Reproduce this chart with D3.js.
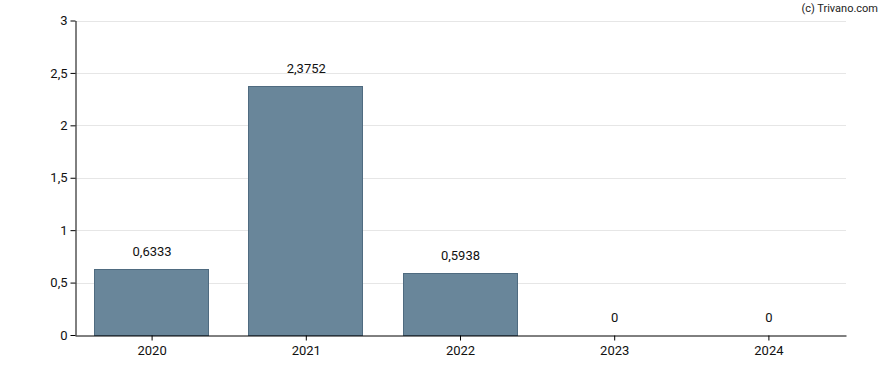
<!DOCTYPE html>
<html>
<head>
<meta charset="utf-8">
<script src="https://cdn.jsdelivr.net/npm/d3@7"></script>
<style>
  body { margin: 0; background: #fff; }
  text { font-family: Roboto, "Liberation Sans", sans-serif; }
</style>
</head>
<body>
<script>
// data
var years = ["2020", "2021", "2022", "2023", "2024"];
var values = [0.6333, 2.3752, 0.5938, 0, 0];
var yTicks = [0, 0.5, 1, 1.5, 2, 2.5, 3];

var width = 888;
var height = 370;
var margin = { top: 20, right: 42, bottom: 35, left: 75 };

var svg = d3.select("body")
    .append("svg")
    .attr("width", width)
    .attr("height", height);

var fmt = function(v) { return String(v).replace(".", ","); };

var x = d3.scaleBand()
    .domain(years)
    .range([margin.left, width - margin.right])
    .paddingInner(0.25)
    .paddingOuter(0.125);

var y = d3.scaleLinear()
    .domain([0, 3])
    .range([height - margin.bottom, margin.top + 0.5]);

// grid lines
svg.append("g")
    .selectAll("line")
    .data(yTicks.slice(1))
    .enter().append("line")
    .attr("x1", margin.left)
    .attr("x2", width - margin.right)
    .attr("y1", function(d) { return Math.round(y(d)) + 0.5; })
    .attr("y2", function(d) { return Math.round(y(d)) + 0.5; })
    .attr("stroke", "#e6e6e6")
    .attr("stroke-width", 1);

// bars
svg.append("g")
    .selectAll("rect")
    .data(values)
    .enter().append("rect")
    .attr("x", function(d, i) { return Math.round(x(years[i])) + 0.5; })
    .attr("y", function(d) { return Math.round(y(d)) + 0.5; })
    .attr("width", Math.floor(x.bandwidth()) - 1)
    .attr("height", function(d) { return Math.max(0, y(0) - Math.round(y(d))); })
    .attr("fill", "#69869a")
    .attr("stroke", "#4f6b80")
    .attr("stroke-width", 1)
    .style("display", function(d) { return d > 0 ? null : "none"; });

// value labels
svg.append("g")
    .selectAll("text")
    .data(values)
    .enter().append("text")
    .attr("x", function(d, i) { return x(years[i]) + x.bandwidth() / 2; })
    .attr("y", function(d) { return y(d) - 13; })
    .attr("text-anchor", "middle")
    .attr("font-size", 13)
    .attr("fill", "#111")
    .text(function(d) { return fmt(d); });

// x axis
var xAxis = svg.append("g")
    .attr("transform", "translate(0," + (Math.round(y(0)) + 0.5) + ")")
    .call(d3.axisBottom(x).tickSize(5).tickSizeOuter(0));
xAxis.select(".domain").attr("stroke", "#000");
xAxis.selectAll("text").attr("font-size", 13).attr("fill", "#111").attr("dy", "0.85em")
    .attr("font-family", "Roboto, sans-serif");

// y axis
var yAxis = svg.append("g")
    .attr("transform", "translate(" + (margin.left + 0.5) + ",0)")
    .call(d3.axisLeft(y).tickValues(yTicks).tickFormat(fmt).tickSize(5).tickSizeOuter(0));
yAxis.select(".domain").attr("stroke", "#000");
yAxis.selectAll("text").attr("font-size", 13).attr("fill", "#111")
    .attr("font-family", "Roboto, sans-serif");

// copyright
svg.append("text")
    .attr("x", width - 10)
    .attr("y", 12)
    .attr("text-anchor", "end")
    .attr("font-size", 11)
    .attr("fill", "#222")
    .text("(c) Trivano.com");
</script>
</body>
</html>
